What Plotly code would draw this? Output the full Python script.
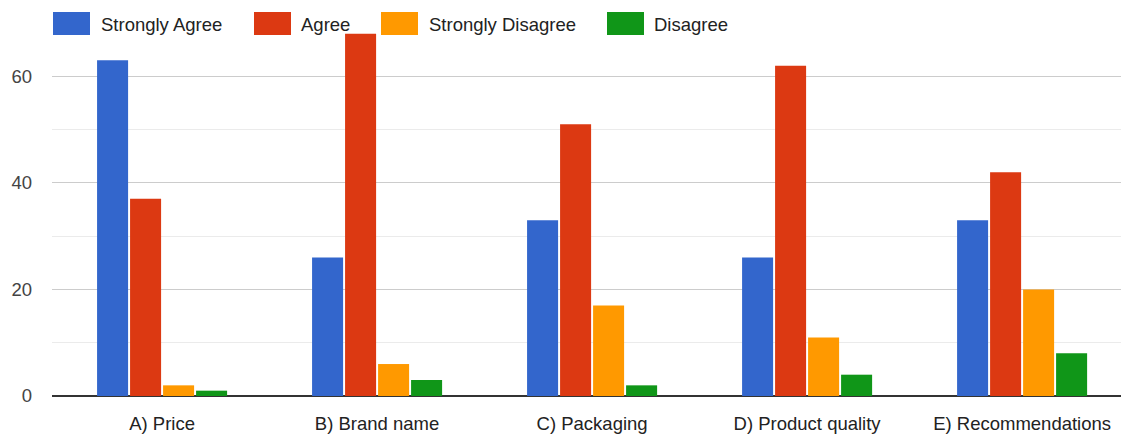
import plotly.graph_objects as go

categories = ["A) Price", "B) Brand name", "C) Packaging", "D) Product quality", "E) Recommendations"]
strongly_agree = [63, 26, 33, 26, 33]
agree = [37, 68, 51, 62, 42]
strongly_disagree = [2, 6, 17, 11, 20]
disagree = [1, 3, 2, 4, 8]

series_names = ["Strongly Agree", "Agree", "Strongly Disagree", "Disagree"]
series_values = [strongly_agree, agree, strongly_disagree, disagree]
colors = ["#3366CC", "#DC3912", "#FF9900", "#109618"]

FONT = "Liberation Sans, Arial, sans-serif"
FS = 18.5

fig = go.Figure()
for name, vals, col in zip(series_names, series_values, colors):
    fig.add_trace(go.Bar(x=categories, y=vals, name=name, marker_color=col,
                         marker_line_width=0, showlegend=False))

# Legend drawn as swatches + labels across the top
W, H = 1121, 441
legend_items = [(53, 99), (254, 299), (381, 427), (607, 652)]
shapes = []
annotations = []
for (bx, tx), name, col in zip(legend_items, series_names, colors):
    shapes.append(dict(type="rect", xref="paper", yref="paper",
                       x0=(bx - 52) / 1069, x1=(bx + 37 - 52) / 1069,
                       y0=(396 - 35) / 373, y1=(396 - 12) / 373,
                       fillcolor=col, line_width=0, layer="above"))
    annotations.append(dict(text=name, xref="paper", yref="paper",
                            x=(tx - 52) / 1069, y=(396 - 24) / 373,
                            xanchor="left", yanchor="middle", showarrow=False,
                            font=dict(size=FS, color="#222222", family=FONT)))

fig.update_layout(
    width=W, height=H,
    margin=dict(l=52, r=0, t=23, b=45),
    paper_bgcolor="white", plot_bgcolor="white",
    barmode="group", bargap=0.386, bargroupgap=0.06,
    font=dict(family=FONT, size=FS, color="#444444"),
    shapes=shapes, annotations=annotations,
    xaxis=dict(range=[-0.512, 4.46], showgrid=False, showline=False,
               ticks="", tickfont=dict(size=FS, color="#222222"),
               ticklabelstandoff=14),
    yaxis=dict(range=[0, 70], dtick=20, tick0=0, showgrid=True,
               gridcolor="#cccccc", gridwidth=1,
               minor=dict(dtick=10, tick0=0, showgrid=True, gridcolor="#ebebeb", gridwidth=1),
               zeroline=True, zerolinecolor="#333333", zerolinewidth=2,
               showline=False, ticks="", ticklabelstandoff=19,
               tickfont=dict(size=FS, color="#444444")),
)

fig.write_html("out.html")
